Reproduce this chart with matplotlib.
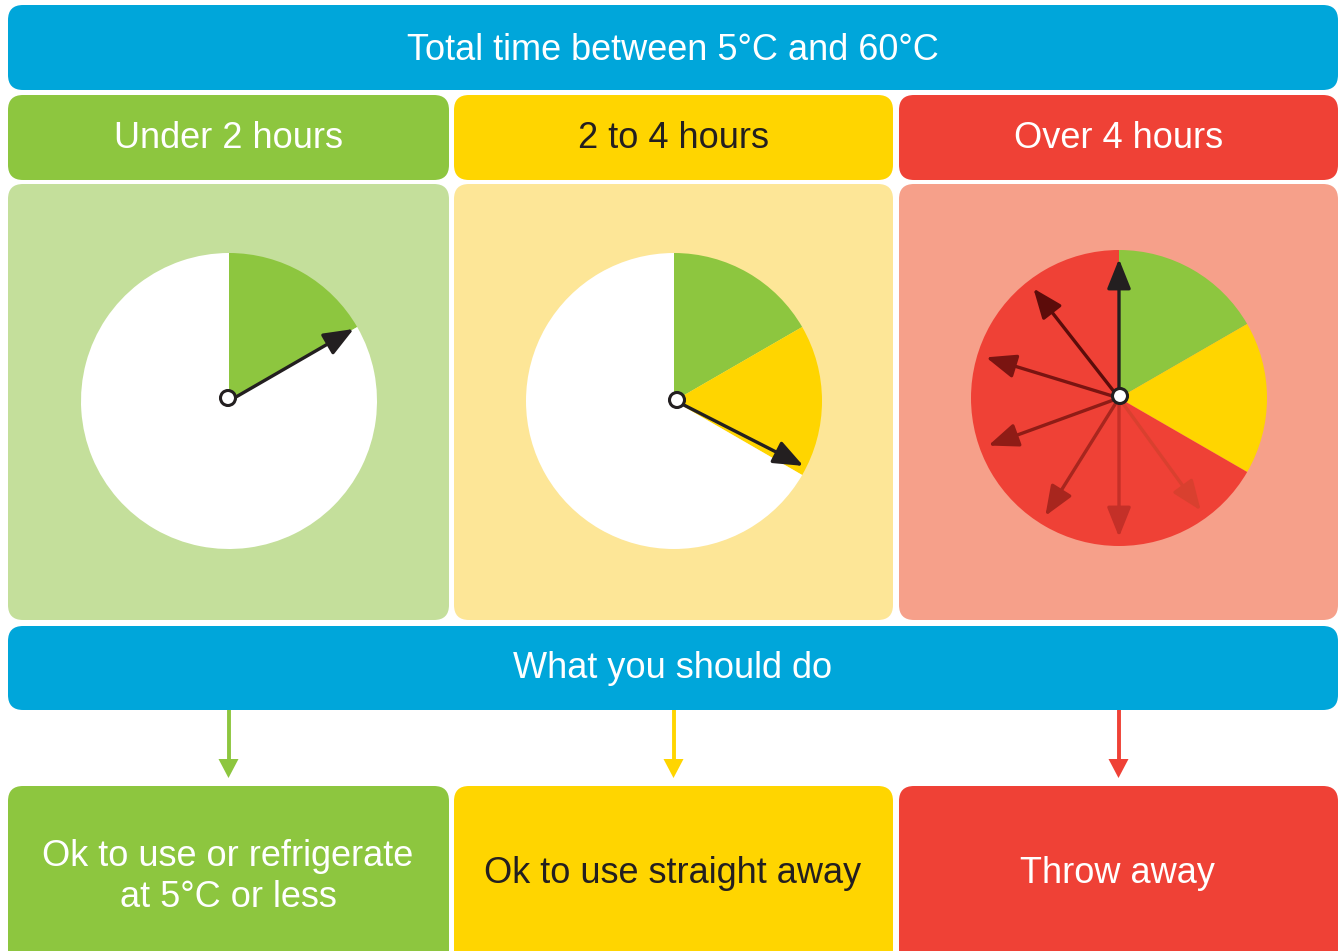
import matplotlib.pyplot as plt
from matplotlib.patches import FancyBboxPatch, FancyArrowPatch, Circle, Polygon
import numpy as np

plt.rcParams['font.family'] = ['Liberation Sans', 'DejaVu Sans']

# ---------------- data ----------------
titulo = "Total time between 5°C and 60°C"
categorias = ["Under 2 hours", "2 to 4 hours", "Over 4 hours"]
horas = [2, 2, 8]                      # porciones del reloj (12 h)
acciones = ["Ok to use or refrigerate\nat 5°C or less",
            "Ok to use straight away",
            "Throw away"]
subtitulo = "What you should do"
# agujas: ángulo en grados (0 = derecha, antihorario)
aguja_verde = 30
aguja_amarilla = -27
agujas_rojas = [90, 128, 163, 200, 238, 270, 306]
colores_agujas_rojas = ["#231f20", "#5c0c0a", "#7a1411", "#8f1c16",
                        "#a8261e", "#c43028", "#d9402f"]

# ---------------- estilos ----------------
W, H = 1343, 951
AZUL = "#00a6da"
VERDE, AMARILLO, ROJO = "#8dc63f", "#ffd500", "#ef4136"
VERDE_CL, AMARILLO_CL, ROJO_CL = "#c4df9b", "#fde697", "#f6a08a"
NEGRO = "#231f20"

fig = plt.figure(figsize=(W / 100, H / 100), dpi=100)
ax = fig.add_axes([0, 0, 1, 1])
ax.set_xlim(0, W)
ax.set_ylim(0, H)
ax.set_aspect("equal")
ax.axis("off")


def Y(y):
    # coordenadas de imagen (y hacia abajo) -> ejes
    return H - y


def caja(x0, y0, x1, y1, color, r=15):
    ax.add_patch(FancyBboxPatch((x0, Y(y1)), x1 - x0, y1 - y0,
                                boxstyle=f"round,pad=0,rounding_size={r}",
                                fc=color, ec="none"))


def texto(x, y, s, color="white"):
    ax.text(x, Y(y), s, ha="center", va="baseline", fontsize=26,
            color=color)


# banners azules
caja(8, 5, 1338, 90, AZUL)
texto(673, 60, titulo)
caja(8, 626, 1338, 710, AZUL)
texto(673, 678, subtitulo)

columnas = [(8, 449), (454, 893), (899, 1338)]
fuertes = [VERDE, AMARILLO, ROJO]
claros = [VERDE_CL, AMARILLO_CL, ROJO_CL]
color_txt = ["white", NEGRO, "white"]

for i, (x0, x1) in enumerate(columnas):
    xc = (x0 + x1) / 2
    caja(x0, 95, x1, 180, fuertes[i])
    texto(xc, 148, categorias[i], color_txt[i])
    caja(x0, 184, x1, 620, claros[i])
    caja(x0, 786, x1, 975, fuertes[i])
    # flecha hacia abajo
    ax.plot([xc, xc], [Y(710), Y(762)], color=fuertes[i], lw=2.8,
            solid_capstyle="butt")
    ax.add_patch(Polygon([[xc - 10, Y(759)], [xc + 10, Y(759)], [xc, Y(778)]],
                         closed=True, fc=fuertes[i], ec="none"))

# textos de acción
texto(228, 866, acciones[0].split("\n")[0])
texto(228, 907, acciones[0].split("\n")[1])
texto(673, 883, acciones[1], NEGRO)
texto(1118, 883, acciones[2])

# ---------------- relojes ----------------
R = 148
centros = [(229, 401), (674, 401), (1119, 398)]
pie_vals = [[horas[0], sum(horas[1:])], horas, horas]
pie_cols = [[VERDE, "white"], [VERDE, AMARILLO, "white"], [VERDE, AMARILLO, ROJO]]
for (cx, cy), vals, cols in zip(centros, pie_vals, pie_cols):
    ax.pie(vals, colors=cols, startangle=90, counterclock=False,
           center=(cx, Y(cy)), radius=R, frame=True,
           wedgeprops=dict(linewidth=0))
ax.set_xlim(0, W)
ax.set_ylim(0, H)
ax.axis("off")


def aguja(cx, cy, ang, largo, color, lw=2.4):
    a = np.deg2rad(ang)
    p0 = (cx, Y(cy))
    p1 = (cx + largo * np.cos(a), Y(cy) + largo * np.sin(a))
    ax.add_patch(FancyArrowPatch(p0, p1,
                                 arrowstyle="-|>,head_length=0.7,head_width=0.28",
                                 mutation_scale=26, color=color, lw=lw,
                                 shrinkA=0, shrinkB=0, zorder=5))


aguja(centros[0][0], centros[0][1], aguja_verde, 144, NEGRO)
aguja(centros[1][0] + 2, centros[1][1], aguja_amarilla, 143, NEGRO)
for ang, col in zip(agujas_rojas[::-1], colores_agujas_rojas[::-1]):
    aguja(centros[2][0], centros[2][1], ang, 139, col)

for cx, cy in [(228, 398), (677, 400), (1120, 396)]:
    ax.add_patch(Circle((cx, Y(cy)), 7.5, fc="white", ec=NEGRO, lw=2.2, zorder=6))

fig.savefig("out.png", dpi=100, facecolor="white")
